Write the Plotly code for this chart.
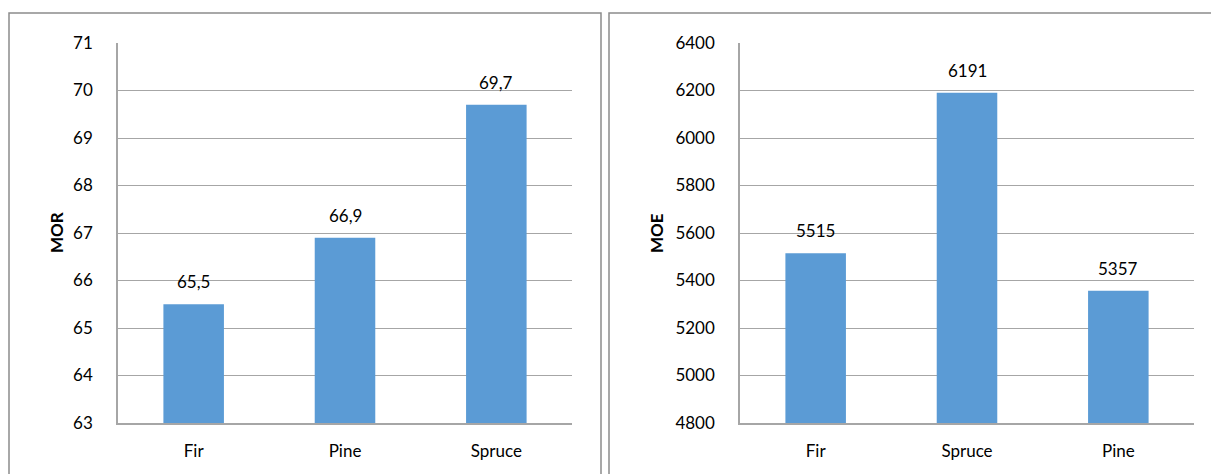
import plotly.graph_objects as go

# Bending strength (MOR) and stiffness (MOE) by species
mor_species = ["Fir", "Pine", "Spruce"]
mor_values = [65.5, 66.9, 69.7]
mor_ticks = [63, 64, 65, 66, 67, 68, 69, 70, 71]

moe_species = ["Fir", "Spruce", "Pine"]
moe_values = [5515, 6191, 5357]
moe_ticks = [4800, 5000, 5200, 5400, 5600, 5800, 6000, 6200, 6400]

W, H = 1211, 474
BAR = "#5B9BD5"
GRID = "#A6A6A6"
FONT = "Lato"
FS = 17

def px(x):
    return x / W

def py(y):
    return 1 - y / H

fig = go.Figure()

fig.add_trace(go.Bar(x=mor_species, y=mor_values, marker=dict(color=BAR, line=dict(width=0)),
                     xaxis="x", yaxis="y", showlegend=False))
fig.add_trace(go.Bar(x=moe_species, y=moe_values, marker=dict(color=BAR, line=dict(width=0)),
                     xaxis="x2", yaxis="y2", showlegend=False))

annotations = []
for s, v in zip(mor_species, mor_values):
    annotations.append(dict(x=s, y=v, xref="x", yref="y", text=f"{v:.1f}".replace(".", ","),
                            showarrow=False, yanchor="bottom", yshift=10,
                            font=dict(family=FONT, size=FS, color="#000")))
for s, v in zip(moe_species, moe_values):
    annotations.append(dict(x=s, y=v, xref="x2", yref="y2", text=f"{v:d}",
                            showarrow=False, yanchor="bottom", yshift=10,
                            font=dict(family=FONT, size=FS, color="#000")))

# rotated axis titles
annotations.append(dict(x=px(56), y=py(233), xref="paper", yref="paper", text="<b>MOR</b>",
                        textangle=-90, showarrow=False, xanchor="center", yanchor="middle",
                        font=dict(family=FONT, size=FS, color="#000")))
annotations.append(dict(x=px(656), y=py(233), xref="paper", yref="paper", text="<b>MOE</b>",
                        textangle=-90, showarrow=False, xanchor="center", yanchor="middle",
                        font=dict(family=FONT, size=FS, color="#000")))

ydom = [py(423), py(43)]
common_x = dict(showgrid=False, showline=True, linecolor=GRID, linewidth=1.5, ticks="",
                tickfont=dict(family=FONT, size=FS, color="#000"), ticklabelstandoff=12,
                automargin=False, fixedrange=True)
common_y = dict(showgrid=True, gridcolor=GRID, gridwidth=1, showline=True, linecolor=GRID,
                linewidth=1.5, ticks="", zeroline=False,
                tickfont=dict(family=FONT, size=FS, color="#000"), ticklabelstandoff=20,
                automargin=False, fixedrange=True)

shapes = [
    dict(type="rect", xref="paper", yref="paper", x0=px(9), x1=px(601), y0=-0.1, y1=py(13),
         line=dict(color="#8C8C8C", width=1.5), fillcolor="rgba(0,0,0,0)", layer="below"),
    dict(type="rect", xref="paper", yref="paper", x0=px(609), x1=px(1215), y0=-0.1, y1=py(13),
         line=dict(color="#8C8C8C", width=1.5), fillcolor="rgba(0,0,0,0)", layer="below"),
]

fig.update_layout(
    width=W, height=H,
    autosize=False,
    margin=dict(l=0, r=0, t=0, b=0, pad=0),
    paper_bgcolor="white", plot_bgcolor="white",
    bargap=0.6,
    xaxis=dict(domain=[px(118), px(572)], anchor="y", **common_x),
    yaxis=dict(domain=ydom, anchor="x", range=[63, 71], tickvals=mor_ticks, **common_y),
    xaxis2=dict(domain=[px(740), px(1194)], anchor="y2", **common_x),
    yaxis2=dict(domain=ydom, anchor="x2", range=[4800, 6400], tickvals=moe_ticks, **common_y),
    annotations=annotations,
    shapes=shapes,
)

fig.write_html("out.html", config={"displayModeBar": False})
